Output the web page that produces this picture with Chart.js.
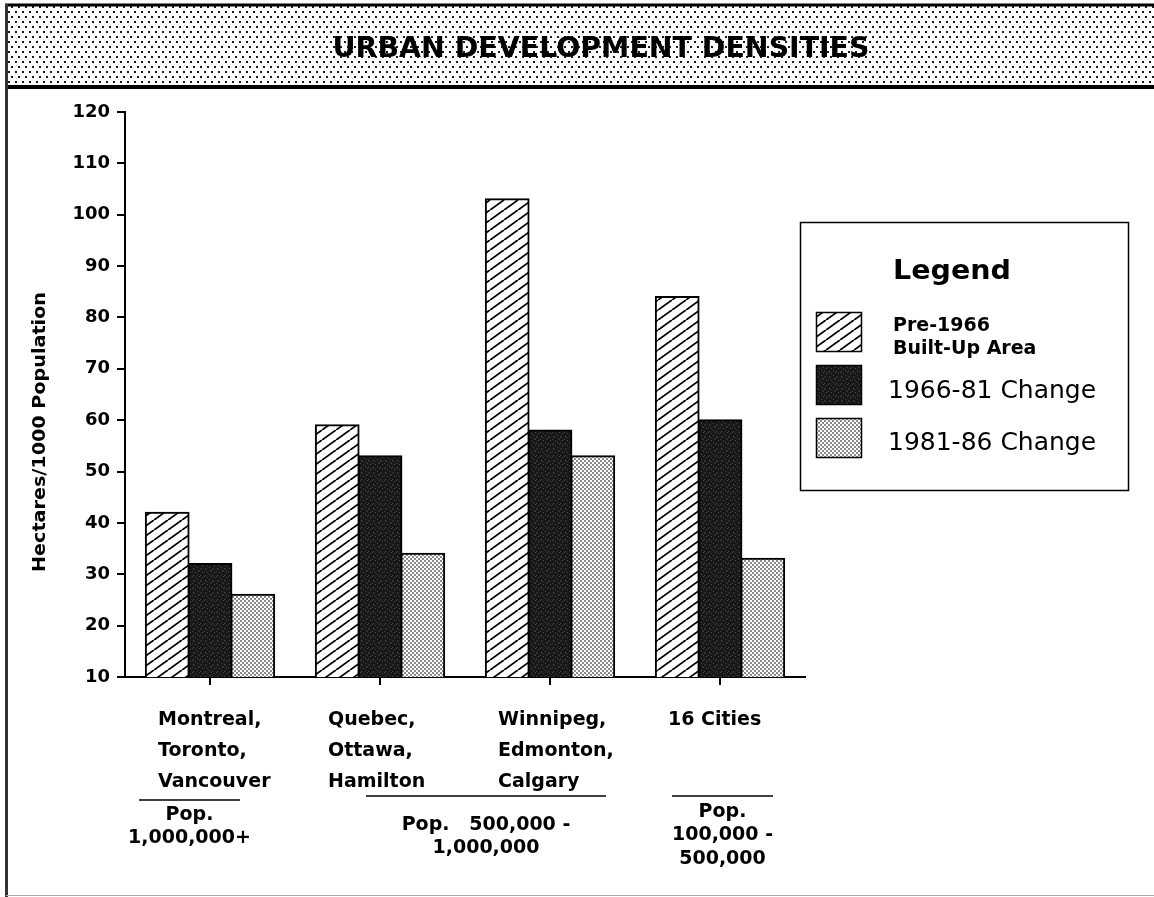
<!DOCTYPE html>
<html>
<head>
<meta charset="utf-8">
<script src="https://cdn.jsdelivr.net/npm/chart.js@4.4.0/dist/chart.umd.min.js"></script>
<style>
  html, body { margin: 0; padding: 0; background: #fff; }
  canvas { display: block; }
</style>
</head>
<body>
<canvas id="chart" width="1154" height="897"></canvas>
<script>
// data
const categories = [
  ['Montreal,', 'Toronto,', 'Vancouver'],
  ['Quebec,', 'Ottawa,', 'Hamilton'],
  ['Winnipeg,', 'Edmonton,', 'Calgary'],
  ['16 Cities']
]
const seriesNames = ['Pre-1966 Built-Up Area', '1966-81 Change', '1981-86 Change']
const legendLines = [['Pre-1966', 'Built-Up Area'], ['1966-81 Change'], ['1981-86 Change']]
const pre1966 = [42, 59, 103, 84]
const change6681 = [32, 53, 58, 60]
const change8186 = [26, 34, 53, 33]
const yMin = 10
const yMax = 120
const yStep = 10
const popGroups = [['Pop.', '1,000,000+'], ['Pop.   500,000 -', '1,000,000'], ['Pop.', '100,000 -', '500,000']]
const popSpans = [[0, 0], [1, 2], [3, 3]]
const chartTitle = 'URBAN DEVELOPMENT DENSITIES'
const yTitle = 'Hectares/1000 Population'

// fill patterns
const makeTile = (w, h, draw) => {
  const c = document.createElement('canvas')
  c.width = w; c.height = h
  const g = c.getContext('2d')
  draw(g)
  return document.getElementById('chart').getContext('2d').createPattern(c, 'repeat')
}
const hatch = makeTile(14, 10, g => {
  g.fillStyle = '#fff'; g.fillRect(0, 0, 14, 10)
  g.strokeStyle = '#000'; g.lineWidth = 1.8
  for (const dx of [-14, 0, 14]) {
    g.beginPath(); g.moveTo(dx, 10); g.lineTo(dx + 14, 0); g.stroke()
  }
})
const dark = makeTile(12, 12, g => {
  g.fillStyle = '#181818'; g.fillRect(0, 0, 12, 12)
  g.fillStyle = '#484848'
  for (let x = 0; x < 12; x++) for (let y = 0; y < 12; y++) {
    if ((x * 5 + y * 3 + x * y) % 7 === 0) g.fillRect(x, y, 1, 1)
  }
})
const light = makeTile(4, 4, g => {
  g.fillStyle = '#fff'; g.fillRect(0, 0, 4, 4)
  g.fillStyle = '#8a8a8a'; g.fillRect(0, 0, 2, 2); g.fillRect(2, 2, 2, 2)
})
const dots = makeTile(7, 10, g => {
  g.fillStyle = '#fff'; g.fillRect(0, 0, 7, 10)
  g.fillStyle = '#1a1a1a'; g.fillRect(1, 1, 2, 2); g.fillRect(4, 6, 2, 2)
})
const fills = [hatch, dark, light]

const fitText = (ctx, text, x, y, w) => {
  const m = ctx.measureText(text).width
  ctx.save(); ctx.translate(x, y); ctx.scale(w / m, 1)
  ctx.fillText(text, 0, 0)
  ctx.restore()
}

const decor = {
  id: 'decor',
  beforeDraw(chart) {
    const ctx = chart.ctx
    ctx.save()
    // title bar
    ctx.fillStyle = dots
    ctx.fillRect(7, 6, 1147, 80)
    ctx.strokeStyle = '#000'
    ctx.lineWidth = 3
    ctx.beginPath(); ctx.moveTo(5, 5); ctx.lineTo(1154, 5); ctx.stroke()
    ctx.lineWidth = 4
    ctx.beginPath(); ctx.moveTo(5, 87); ctx.lineTo(1154, 87); ctx.stroke()
    ctx.strokeStyle = '#333'
    ctx.lineWidth = 3
    ctx.beginPath(); ctx.moveTo(6.5, 4); ctx.lineTo(6.5, 897); ctx.stroke()
    ctx.strokeStyle = '#aaa'
    ctx.lineWidth = 1
    ctx.beginPath(); ctx.moveTo(6, 895.5); ctx.lineTo(1154, 895.5); ctx.stroke()
    ctx.font = 'bold 29px "DejaVu Sans Condensed", "DejaVu Sans"'
    ctx.textAlign = 'center'
    ctx.textBaseline = 'alphabetic'
    ctx.fillStyle = '#000'
    fitText(ctx, chartTitle, 601, 57, 537)
    ctx.restore()
  },
  afterDraw(chart) {
    const ctx = chart.ctx
    const x = chart.scales.x
    const area = chart.chartArea
    ctx.save()
    ctx.fillStyle = '#000'
    ctx.strokeStyle = '#000'

    // x axis runs a little past the y axis
    ctx.lineWidth = 2
    ctx.beginPath(); ctx.moveTo(117, area.bottom); ctx.lineTo(area.left, area.bottom); ctx.stroke()

    // y title
    ctx.save()
    ctx.translate(40, 432)
    ctx.rotate(-Math.PI / 2)
    ctx.font = 'bold 18px "DejaVu Sans"'
    ctx.textAlign = 'center'
    ctx.textBaseline = 'middle'
    fitText(ctx, yTitle, 0, 0, 280)
    ctx.restore()

    // legend
    ctx.lineWidth = 1.5
    ctx.strokeRect(800.5, 222.5, 328, 268)
    ctx.textAlign = 'center'
    ctx.textBaseline = 'middle'
    ctx.font = 'bold 26px "DejaVu Sans"'
    fitText(ctx, 'Legend', 952, 272, 118)
    const swY = [312, 365, 418]
    fills.forEach((f, i) => {
      ctx.fillStyle = f
      ctx.fillRect(816, swY[i], 46, 40)
      ctx.strokeRect(816.5, swY[i] + 0.5, 45, 39)
    })
    ctx.fillStyle = '#000'
    ctx.textAlign = 'left'
    ctx.font = 'bold 19px "DejaVu Sans"'
    ctx.fillText(legendLines[0][0], 893, 326)
    ctx.fillText(legendLines[0][1], 893, 349)
    ctx.font = '25px "DejaVu Sans"'
    ctx.fillText(legendLines[1][0], 888, 391)
    ctx.fillText(legendLines[2][0], 888, 443)

    // population groups
    const lineOff = [[-71, 30], [-14, 56], [-48, 53]]
    const lineY = [800, 796, 796]
    const textY = [815, 825, 812]
    ctx.font = 'bold 19px "DejaVu Sans"'
    ctx.textAlign = 'center'
    popGroups.forEach((lines, i) => {
      const x0 = x.getPixelForValue(popSpans[i][0]) + lineOff[i][0]
      const x1 = x.getPixelForValue(popSpans[i][1]) + lineOff[i][1]
      ctx.lineWidth = 1.5
      ctx.beginPath(); ctx.moveTo(x0, lineY[i]); ctx.lineTo(x1, lineY[i]); ctx.stroke()
      lines.forEach((t, j) => ctx.fillText(t, (x0 + x1) / 2, textY[i] + j * 23.5))
    })
    ctx.restore()
  }
}

new Chart(document.getElementById('chart'), {
  type: 'bar',
  data: {
    labels: categories,
    datasets: [
      {label: seriesNames[0], data: pre1966, backgroundColor: hatch},
      {label: seriesNames[1], data: change6681, backgroundColor: dark},
      {label: seriesNames[2], data: change8186, backgroundColor: light}
    ]
  },
  options: {
    responsive: false,
    animation: false,
    devicePixelRatio: 1,
    layout: {padding: {left: 0, right: 349, top: 112, bottom: 0}},
    datasets: {bar: {categoryPercentage: 0.755, barPercentage: 1, borderColor: '#000', borderWidth: 2, inflateAmount: 1}},
    plugins: {legend: {display: false}, tooltip: {enabled: false}, title: {display: false}},
    scales: {
      x: {
        grid: {drawOnChartArea: false, offset: false, tickLength: 8, color: '#000', lineWidth: 2},
        border: {color: '#000', width: 2},
        ticks: {
          color: '#000', align: 'start', labelOffset: -52, padding: 20,
          maxRotation: 0, autoSkip: false,
          font: {family: 'DejaVu Sans', weight: 'bold', size: 19, lineHeight: '31px'}
        },
        afterFit: s => { s.height = 220 }
      },
      y: {
        min: yMin, max: yMax,
        grid: {drawOnChartArea: false, tickLength: 8, color: '#000', lineWidth: 2},
        border: {color: '#000', width: 2},
        ticks: {stepSize: yStep, color: '#000', padding: 7, font: {family: 'DejaVu Sans', weight: 'bold', size: 18}},
        afterFit: s => { s.width = 125 }
      }
    }
  },
  plugins: [decor]
})
</script>
</body>
</html>
